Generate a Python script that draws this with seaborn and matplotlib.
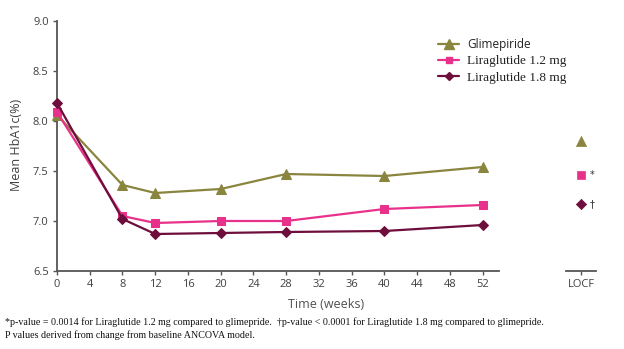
import matplotlib
matplotlib.use("Agg")
import matplotlib.pyplot as plt
import seaborn as sns
import pandas as pd
from matplotlib.lines import Line2D

weeks = [0, 8, 12, 20, 28, 40, 52]
glimepiride = [8.06, 7.36, 7.28, 7.32, 7.47, 7.45, 7.54]
lira12 = [8.09, 7.05, 6.98, 7.00, 7.00, 7.12, 7.16]
lira18 = [8.18, 7.02, 6.87, 6.88, 6.89, 6.90, 6.96]
locf = {"Glimepiride": 7.80, "Liraglutide 1.2 mg": 7.46, "Liraglutide 1.8 mg": 7.17}
locf_marks = {"Glimepiride": "", "Liraglutide 1.2 mg": "*", "Liraglutide 1.8 mg": "\u2020"}
series_names = ["Glimepiride", "Liraglutide 1.2 mg", "Liraglutide 1.8 mg"]
xticks = list(range(0, 53, 4))
yticks = [6.5, 7.0, 7.5, 8.0, 8.5, 9.0]
footnote1 = ("*p-value = 0.0014 for Liraglutide 1.2 mg compared to glimepride.  "
             "\u2020p-value < 0.0001 for Liraglutide 1.8 mg compared to glimepride.")
footnote2 = "P values derived from change from baseline ANCOVA model."

sns.set_style("white")
plt.rcParams['font.family'] = ['Open Sans', 'DejaVu Sans']

colors = {"Glimepiride": "#8A853E", "Liraglutide 1.2 mg": "#E8318A", "Liraglutide 1.8 mg": "#6E0E3C"}
markers = {"Glimepiride": "^", "Liraglutide 1.2 mg": "s", "Liraglutide 1.8 mg": "D"}
msizes = {"Glimepiride": 7.0, "Liraglutide 1.2 mg": 5.5, "Liraglutide 1.8 mg": 5.0}

df = pd.DataFrame({
    "week": weeks * 3,
    "value": glimepiride + lira12 + lira18,
    "group": [series_names[0]] * len(weeks) + [series_names[1]] * len(weeks) + [series_names[2]] * len(weeks),
})
df_locf = pd.DataFrame({"x": [1, 1, 1], "value": [locf[n] for n in series_names], "group": series_names})

W, H = 624, 349
fig = plt.figure(figsize=(W / 100, H / 100), dpi=100)
ax = fig.add_axes([57 / W, (H - 271) / H, (499 - 57) / W, 250 / H])
ax2 = fig.add_axes([566 / W, (H - 271) / H, 30 / W, 250 / H])

for name in series_names:
    sub = df[df.group == name]
    sns.lineplot(data=sub, x="week", y="value", ax=ax, color=colors[name], marker=markers[name],
                 markersize=msizes[name], markeredgecolor=colors[name], linewidth=1.6,
                 clip_on=False, zorder=3, legend=False)
    subl = df_locf[df_locf.group == name]
    sns.scatterplot(data=subl, x="x", y="value", ax=ax2, color=colors[name], marker=markers[name],
                    s=msizes[name] ** 2 * 1.1, edgecolor=colors[name], linewidth=0.5, legend=False, clip_on=False)
    if locf_marks[name]:
        ax2.annotate(locf_marks[name], (1, locf[name]), xytext=(6, 0), textcoords="offset points",
                     va="center", ha="left", fontsize=7, color="#333333",
                     family=['DejaVu Sans'])

for a in (ax, ax2):
    a.set_ylim(6.5, 9.0)
    for s in ("top", "right"):
        a.spines[s].set_visible(False)
    a.spines["bottom"].set_color("#555555")
    a.spines["bottom"].set_linewidth(1.3)
    a.set_xlabel("")
    a.set_ylabel("")
    a.set_facecolor("none")

ax.spines["left"].set_color("#555555")
ax.spines["left"].set_linewidth(1.3)
ax.set_xlim(0, 54)
ax.set_xticks(xticks)
ax.set_yticks(yticks)
ax.set_yticklabels([f"{v:.1f}" for v in yticks])
ax.tick_params(axis="both", direction="out", length=3, width=1, color="#555555",
               labelsize=8, labelcolor="#404040", bottom=True, left=True, pad=3)

ax2.spines["left"].set_visible(False)
ax2.set_xlim(0, 2)
ax2.set_xticks([1])
ax2.set_xticklabels(["LOCF"])
ax2.set_yticks([])
ax2.tick_params(axis="x", direction="out", length=3, width=1, color="#555555",
                labelsize=8, labelcolor="#404040", bottom=True, pad=3)

fig.text(17 / W, 1 - 145 / H, "Mean HbA1c(%)", rotation=90, ha="center", va="center",
         fontsize=9, color="#404040")
fig.text(326 / W, 1 - 305 / H, "Time (weeks)", ha="center", va="center",
         fontsize=9, color="#505050")

handles = [Line2D([0], [0], color=colors[n], marker=markers[n], markersize=msizes[n] - 0.5,
                  markeredgecolor=colors[n], linewidth=1.6) for n in series_names]
leg = ax.legend(handles, series_names, loc="upper left", bbox_to_anchor=((433 - 57) / (499 - 57), 1 - 12 / 250),
                frameon=False, handlelength=1.6, handletextpad=0.6, labelspacing=0.3, fontsize=9.5,
                borderaxespad=0)
for i, t in enumerate(leg.get_texts()):
    if i == 0:
        t.set_fontfamily(['Open Sans', 'DejaVu Sans'])
        t.set_fontsize(8.5)
    else:
        t.set_fontfamily(['Liberation Serif', 'DejaVu Serif'])
    t.set_color("#222222")

fig.text(5 / W, 1 - 322 / H, footnote1, ha="left", va="center", fontsize=7.2,
         family=['Liberation Serif', 'DejaVu Serif'], color="#111111")
fig.text(5 / W, 1 - 335 / H, footnote2, ha="left", va="center", fontsize=7.2,
         family=['Liberation Serif', 'DejaVu Serif'], color="#111111")

fig.savefig("out.png", dpi=100)
